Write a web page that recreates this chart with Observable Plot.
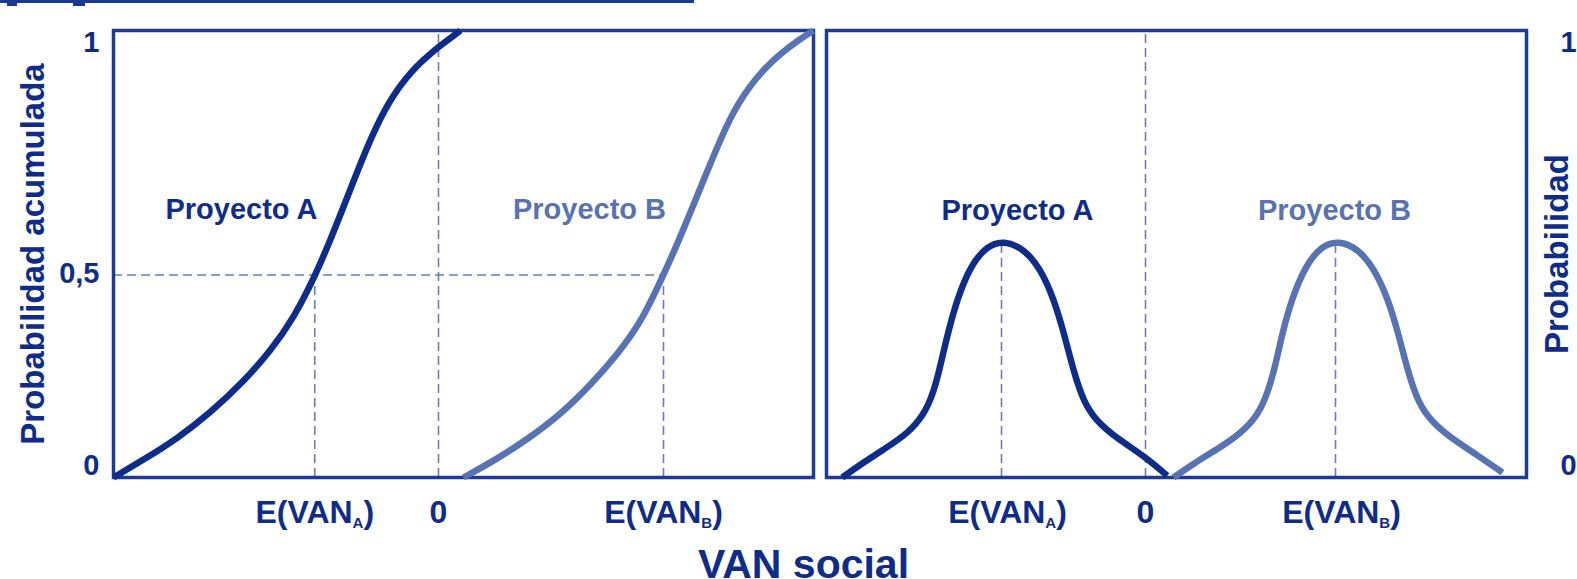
<!DOCTYPE html>
<html>
<head>
<meta charset="utf-8">
<script src="https://cdn.jsdelivr.net/npm/d3@7"></script>
<script src="https://cdn.jsdelivr.net/npm/@observablehq/plot@0.6"></script>
<style>
  html, body { margin: 0; padding: 0; background: #fff; }
  #wrap { position: relative; width: 1577px; height: 579px; overflow: hidden; background: #fff; }
  #wrap svg { position: absolute; left: 0; top: 0; }
  .bar { position: absolute; background: #1b3990; }
</style>
</head>
<body>
<div id="wrap">
  <div class="bar" style="left:0;top:0;width:694px;height:3px;"></div>
  <div class="bar" style="left:7px;top:0;width:10px;height:6px;"></div>
  <div class="bar" style="left:73px;top:0;width:12px;height:6px;"></div>
</div>
<script>
// ---------- data ----------
const seriesNames = ["Proyecto A", "Proyecto B"];

// Left panel: cumulative probability vs VAN social
const cdfA = [[-13, 0], [-11.79, 0.040], [-10.45, 0.087], [-9.12, 0.145], [-7.79, 0.215], [-6.72, 0.283],
  [-5.79, 0.357], [-4.92, 0.453], [-4.32, 0.532], [-3.79, 0.607], [-3.25, 0.684], [-2.72, 0.757],
  [-2.05, 0.836], [-1.12, 0.910], [0.05, 0.966], [0.88, 1.0]];
const cdfB = [[1.0, 0], [2.3, 0.040], [3.6, 0.087], [4.9, 0.142], [6.1, 0.208], [7.2, 0.278],
  [8.15, 0.352], [9.0, 0.453], [9.65, 0.535], [10.2, 0.610], [10.75, 0.685], [11.3, 0.760],
  [11.95, 0.836], [12.9, 0.910], [14.05, 0.966], [15, 1.0]];
const leftDomain = [-13, 15];
const leftTickValues = [-4.95, 0, 9.0];
const leftTickLabels = ["E(VAN_A)", "0", "E(VAN_B)"];
const leftYTicks = [0, 0.453, 1];
const leftYLabels = ["0", "0,5", "1"];
const leftYTitle = "Probabilidad acumulada";
const leftLabelX = [-7.88, 6.04];
const leftLabelY = [0.578, 0.578];

// Right panel: probability density vs VAN social
const pdfA = [[-12.13, 0], [-11.27, 0.034], [-10.33, 0.068], [-9.53, 0.098], [-8.87, 0.139], [-8.47, 0.191],
  [-8.2, 0.251], [-7.93, 0.318], [-7.53, 0.400], [-7.0, 0.474], [-6.33, 0.519], [-5.67, 0.530],
  [-4.87, 0.512], [-4.2, 0.467], [-3.67, 0.400], [-3.27, 0.325], [-2.87, 0.236], [-2.47, 0.168],
  [-1.93, 0.124], [-1.13, 0.087], [-0.07, 0.049], [0.87, 0.004]];
const pdfB = [[1.12, 0], [2.0, 0.034], [2.95, 0.066], [3.8, 0.098], [4.5, 0.139], [4.9, 0.191],
  [5.2, 0.251], [5.45, 0.318], [5.85, 0.400], [6.4, 0.474], [7.05, 0.519], [7.72, 0.530],
  [8.5, 0.512], [9.15, 0.467], [9.7, 0.400], [10.1, 0.325], [10.5, 0.236], [10.9, 0.168],
  [11.45, 0.124], [12.25, 0.087], [13.3, 0.049], [14.28, 0.011]];
const rightDomain = [-12.76, 15.24];
const rightTickValues = [-5.76, 0, 7.6];
const rightTickLabels = ["E(VAN_A)", "0", "E(VAN_B)"];
const rightYTicks = [0, 1];
const rightYLabels = ["0", "1"];
const rightYTitle = "Probabilidad";
const rightLabelX = [-5.12, 7.56];
const rightLabelY = [0.577, 0.577];

const xTitle = "VAN social";

// ---------- styles ----------
const NAVY = "#0f2d88", LIGHT = "#5872b2", FRAME = "#1d3b94", DASH = "#6a7dba";
const FONT = "'Liberation Sans', Arial, sans-serif";
const W = 1577, H = 579;
const dashStyle = {stroke: DASH, strokeWidth: 1.6, strokeDasharray: "9,5"};
const txt = {fill: NAVY, fontWeight: "bold", fontFamily: FONT};
const colors = [NAVY, LIGHT];
const yDy = v => (v === 0 ? -12 : v === 1 ? 12 : -1);

function curveMark(data, color) {
  return Plot.line(data, {x: d => d[0], y: d => d[1], stroke: color, strokeWidth: 6.5,
    curve: "basis", strokeLinecap: "butt", strokeLinejoin: "round"});
}
function seriesLabels(xs, ys) {
  return seriesNames.map((name, i) => Plot.text([name], {x: () => xs[i], y: () => ys[i], text: d => d,
    lineAnchor: "bottom", fontSize: 29, ...txt, fill: colors[i]}));
}
function yLabelMarks(ticks, labels, frameAnchor, dx, textAnchor) {
  return ticks.map((t, i) => Plot.text([t], {y: d => d, text: () => labels[i], frameAnchor, dx, dy: yDy(t),
    textAnchor, lineAnchor: "middle", fontSize: 29, ...txt}));
}

// ---------- left panel ----------
const median = leftYTicks[1];
const leftGuidesV = [
  {x: leftTickValues[0], y1: 0, y2: median},
  {x: leftTickValues[1], y1: 0, y2: 1},
  {x: leftTickValues[2], y1: 0, y2: median}
];
const leftGuidesH = [{y: median, x1: leftDomain[0], x2: leftTickValues[2]}];

const left = Plot.plot({
  width: W, height: H,
  marginLeft: 113, marginRight: W - 813, marginTop: 30, marginBottom: 102,
  x: {domain: leftDomain, axis: null},
  y: {domain: [0, 1], axis: null},
  style: {background: "transparent", fontFamily: FONT, overflow: "visible"},
  marks: [
    Plot.ruleX(leftGuidesV, {x: "x", y1: "y1", y2: "y2", ...dashStyle}),
    Plot.ruleY(leftGuidesH, {y: "y", x1: "x1", x2: "x2", ...dashStyle}),
    Plot.frame({stroke: FRAME, strokeWidth: 3.5}),
    curveMark(cdfA, NAVY),
    curveMark(cdfB, LIGHT),
    ...seriesLabels(leftLabelX, leftLabelY),
    ...yLabelMarks(leftYTicks, leftYLabels, "left", -14, "end"),
    Plot.text(leftTickValues, {x: d => d, text: (d, i) => leftTickLabels[i], frameAnchor: "bottom",
      lineAnchor: "bottom", dy: 45, fontSize: 32, ...txt}),
    Plot.text([leftYTitle], {text: d => d, frameAnchor: "left", dx: -80, rotate: -90,
      textAnchor: "middle", lineAnchor: "middle", fontSize: 33, ...txt}),
    Plot.text([xTitle], {text: d => d, frameAnchor: "bottom-right", dx: -10, dy: 100,
      textAnchor: "middle", lineAnchor: "bottom", fontSize: 41, ...txt})
  ]
});

// ---------- right panel ----------
const peakA = d3.max(pdfA, d => d[1]);
const peakB = d3.max(pdfB, d => d[1]);
const rightGuidesV = [
  {x: rightTickValues[0], y1: 0, y2: peakA},
  {x: rightTickValues[1], y1: 0, y2: 1},
  {x: rightTickValues[2], y1: 0, y2: peakB}
];

const right = Plot.plot({
  width: W, height: H,
  marginLeft: 826, marginRight: W - 1526, marginTop: 30, marginBottom: 102,
  x: {domain: rightDomain, axis: null},
  y: {domain: [0, 1], axis: null},
  style: {background: "transparent", fontFamily: FONT, overflow: "visible"},
  marks: [
    Plot.ruleX(rightGuidesV, {x: "x", y1: "y1", y2: "y2", ...dashStyle}),
    Plot.frame({stroke: FRAME, strokeWidth: 3.5}),
    curveMark(pdfA, NAVY),
    curveMark(pdfB, LIGHT),
    ...seriesLabels(rightLabelX, rightLabelY),
    ...yLabelMarks(rightYTicks, rightYLabels, "right", 34, "start"),
    Plot.text(rightTickValues, {x: d => d, text: (d, i) => rightTickLabels[i], frameAnchor: "bottom",
      lineAnchor: "bottom", dy: 45, fontSize: 32, ...txt}),
    Plot.text([rightYTitle], {text: d => d, frameAnchor: "right", dx: 31, rotate: -90,
      textAnchor: "middle", lineAnchor: "middle", fontSize: 33, ...txt})
  ]
});

const wrap = document.getElementById("wrap");
wrap.appendChild(left);
wrap.appendChild(right);

// subscripts for E(VAN_A), E(VAN_B); right-panel expectation labels sit slightly right as in the original
const NS = "http://www.w3.org/2000/svg";
for (const svg of [left, right]) {
  for (const t of svg.querySelectorAll("text")) {
    const m = t.textContent.match(/^E\(VAN_([AB])\)$/);
    if (!m) continue;
    t.textContent = "";
    const a = document.createElementNS(NS, "tspan"); a.textContent = "E(VAN";
    const b = document.createElementNS(NS, "tspan"); b.textContent = m[1];
    b.setAttribute("font-size", "15"); b.setAttribute("dy", "5");
    const c = document.createElementNS(NS, "tspan"); c.textContent = ")"; c.setAttribute("dy", "-5");
    t.append(a, b, c);
    if (svg === right) t.setAttribute("dx", "6");
  }
}
</script>
</body>
</html>
